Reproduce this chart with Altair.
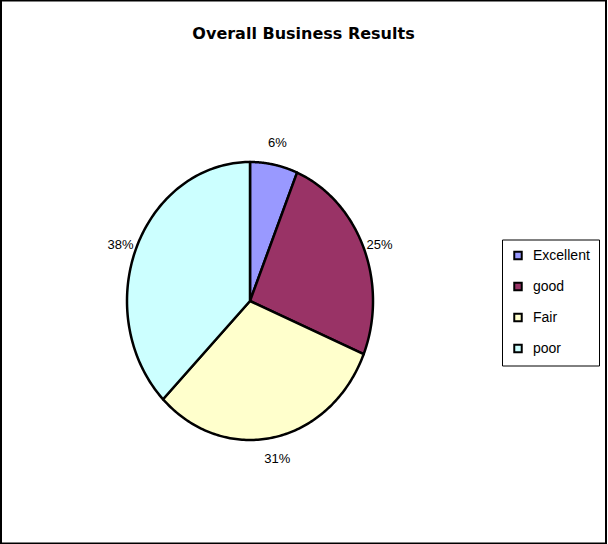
import altair as alt
import pandas as pd

title_text = "Overall Business Results"
categories = ["Excellent", "good", "Fair", "poor"]
counts = [1, 4, 5, 6]
colors = ["#9999FF", "#993366", "#FFFFCC", "#CCFFFF"]

df = pd.DataFrame({"category": categories, "count": counts,
                   "idx": list(range(len(categories)))})

# plot-area scales: the pie is drawn in unit coordinates, the scales set its size
xs = alt.Scale(domain=[-2.0244, 2.8943], nice=False, zero=False)
ys = alt.Scale(domain=[-1.7446, 2.1619], nice=False, zero=False)

base = (
    alt.Chart(df)
    .transform_joinaggregate(total="sum(count)")
    .transform_window(cum="sum(count)", sort=[alt.SortField("idx", order="ascending")],
                      frame=[None, 0])
    .transform_calculate(a0="2*PI*(datum.cum - datum.count)/datum.total",
                         a1="2*PI*datum.cum/datum.total")
    .transform_calculate(amid="(datum.a0 + datum.a1)/2")
)

N = 120
slices = (
    base.transform_calculate(k=f"sequence(-1, {N + 2})")
    .transform_flatten(["k"])
    .transform_calculate(
        t=f"datum.a0 + (datum.a1 - datum.a0) * clamp(datum.k, 0, {N}) / {N}",
        rr=f"(datum.k < 0 || datum.k > {N}) ? 0 : 1",
    )
    .transform_calculate(px="datum.rr * sin(datum.t)", py="datum.rr * cos(datum.t)")
    .mark_line(filled=True, stroke="black", strokeWidth=2.5, strokeJoin="round")
    .encode(
        x=alt.X("px:Q", scale=xs, axis=None),
        y=alt.Y("py:Q", scale=ys, axis=None),
        color=alt.Color(
            "category:N",
            scale=alt.Scale(domain=categories, range=colors),
            legend=alt.Legend(
                title=None, orient="none", legendX=501, legendY=239,
                symbolType="square", symbolSize=56, symbolStrokeColor="black",
                symbolStrokeWidth=2, labelFont="Liberation Sans", labelFontSize=14,
                labelColor="black", labelOffset=8, rowPadding=15, padding=9,
                strokeColor="black", fillColor="white", cornerRadius=0,
            ),
        ),
        order=alt.Order("k:Q"),
    )
)

labels = (
    base.transform_calculate(
        lx="1.14 * sin(datum.amid)",
        ly="(1.04 + 0.12 * cos(datum.amid) * cos(datum.amid)) * cos(datum.amid)",
        label="round(100 * datum.count / datum.total) + '%'",
    )
    .mark_text(font="Liberation Sans", fontSize=13, color="black",
               align="center", baseline="middle")
    .encode(
        x=alt.X("lx:Q", scale=xs, axis=None),
        y=alt.Y("ly:Q", scale=ys, axis=None),
        text="label:N",
    )
)

title = (
    alt.Chart(pd.DataFrame({"t": [title_text]}))
    .mark_text(font="DejaVu Sans", fontSize=16, fontWeight="bold", color="black",
               align="center", baseline="alphabetic")
    .encode(text="t:N", x=alt.value(302.5), y=alt.value(38))
)

chart = (
    alt.layer(slices, labels, title)
    .properties(
        width=605, height=543,
        autosize=alt.AutoSizeParams(type="none"),
        padding={"left": 1, "top": 0.5, "right": 2, "bottom": 0.5},
        background="white",
    )
    .configure_view(stroke="black", strokeWidth=2)
)

chart.save("out.html", embed_options={"renderer": "svg", "actions": False})
